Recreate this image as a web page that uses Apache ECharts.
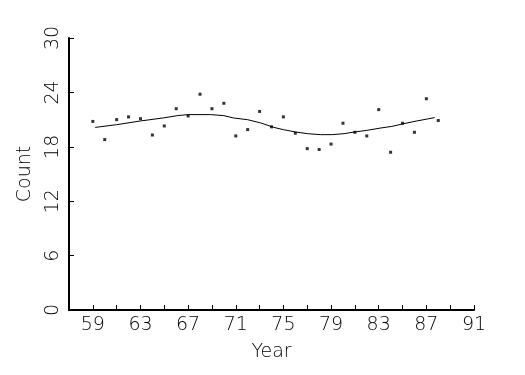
<!DOCTYPE html>
<html>
<head>
<meta charset="utf-8">
<script src="https://cdn.jsdelivr.net/npm/echarts@6/dist/echarts.min.js"></script>
<style>
html,body{margin:0;padding:0;background:#fff;}
#chart{width:525px;height:375px;}
</style>
</head>
<body>
<div id="chart"></div>
<script>
var years = [59,60,61,62,63,64,65,66,67,68,69,70,71,72,73,74,75,76,77,78,79,80,81,82,83,84,85,86,87,88];
var counts = [20.8,18.8,21.0,21.3,21.1,19.3,20.3,22.2,21.4,23.8,22.2,22.8,19.2,19.9,21.9,20.2,21.3,19.5,17.8,17.7,18.3,20.6,19.6,19.2,22.1,17.4,20.6,19.6,23.3,20.9];
var curveYears = [59.2,61,63,64.9,66.1,67,68.9,70,70.8,72,73.1,74.2,75,76,77,78.1,79.1,80.1,81,82,83.2,84.1,85.1,86.2,87.1,87.7];
var curveValues = [20.14,20.44,20.85,21.18,21.44,21.55,21.55,21.44,21.18,20.99,20.63,20.14,19.89,19.64,19.45,19.34,19.34,19.45,19.64,19.81,20.08,20.25,20.55,20.85,21.07,21.22];
var yTicks = [0,6,12,18,24,30];
var xLabels = [59,63,67,71,75,79,83,87,91];

var font = '"DejaVu Sans ExtraLight", "DejaVu Sans"';
var chart = echarts.init(document.getElementById('chart'), null, {renderer:'canvas'});
chart.setOption({
  animation: false,
  backgroundColor: '#fff',
  grid: {left: 69, right: 51, top: 38, bottom: 65, containLabel: false, outerBoundsMode: 'none'},
  xAxis: {
    type: 'value', min: 57, max: 91, interval: 2,
    name: 'Year', nameLocation: 'middle', nameGap: 33,
    nameTextStyle: {fontFamily: font, fontSize: 19, color: '#000', fontWeight: 200},
    axisLine: {show: true, lineStyle: {color: '#000', width: 2}},
    axisTick: {show: true, inside: true, length: 5, lineStyle: {color: '#000', width: 1}},
    axisLabel: {
      margin: 6, fontFamily: font, fontSize: 19, color: '#000', fontWeight: 200,
      formatter: function(v){ return xLabels.indexOf(v) >= 0 ? String(v) : ''; }
    },
    splitLine: {show: false}
  },
  yAxis: {
    type: 'value', min: 0, max: 30, interval: 6,
    name: 'Count', nameLocation: 'middle', nameGap: 34,
    nameTextStyle: {fontFamily: font, fontSize: 19, color: '#000', fontWeight: 200},
    axisLine: {show: true, lineStyle: {color: '#000', width: 2}},
    axisTick: {show: true, inside: true, length: 5, lineStyle: {color: '#000', width: 1}},
    axisLabel: {
      margin: 6, rotate: 90, fontFamily: font, fontSize: 19, color: '#000', fontWeight: 200,
      formatter: function(v){ return yTicks.indexOf(v) >= 0 ? String(v) : ''; }
    },
    splitLine: {show: false}
  },
  series: [
    {
      type: 'scatter', symbol: 'rect', symbolSize: 3,
      itemStyle: {color: '#000'},
      data: years.map(function(y,i){ return [y, counts[i]]; })
    },
    {
      type: 'line', showSymbol: false, smooth: false,
      lineStyle: {color: '#000', width: 1},
      data: curveYears.map(function(y,i){ return [y, curveValues[i]]; })
    }
  ]
});
</script>
</body>
</html>
